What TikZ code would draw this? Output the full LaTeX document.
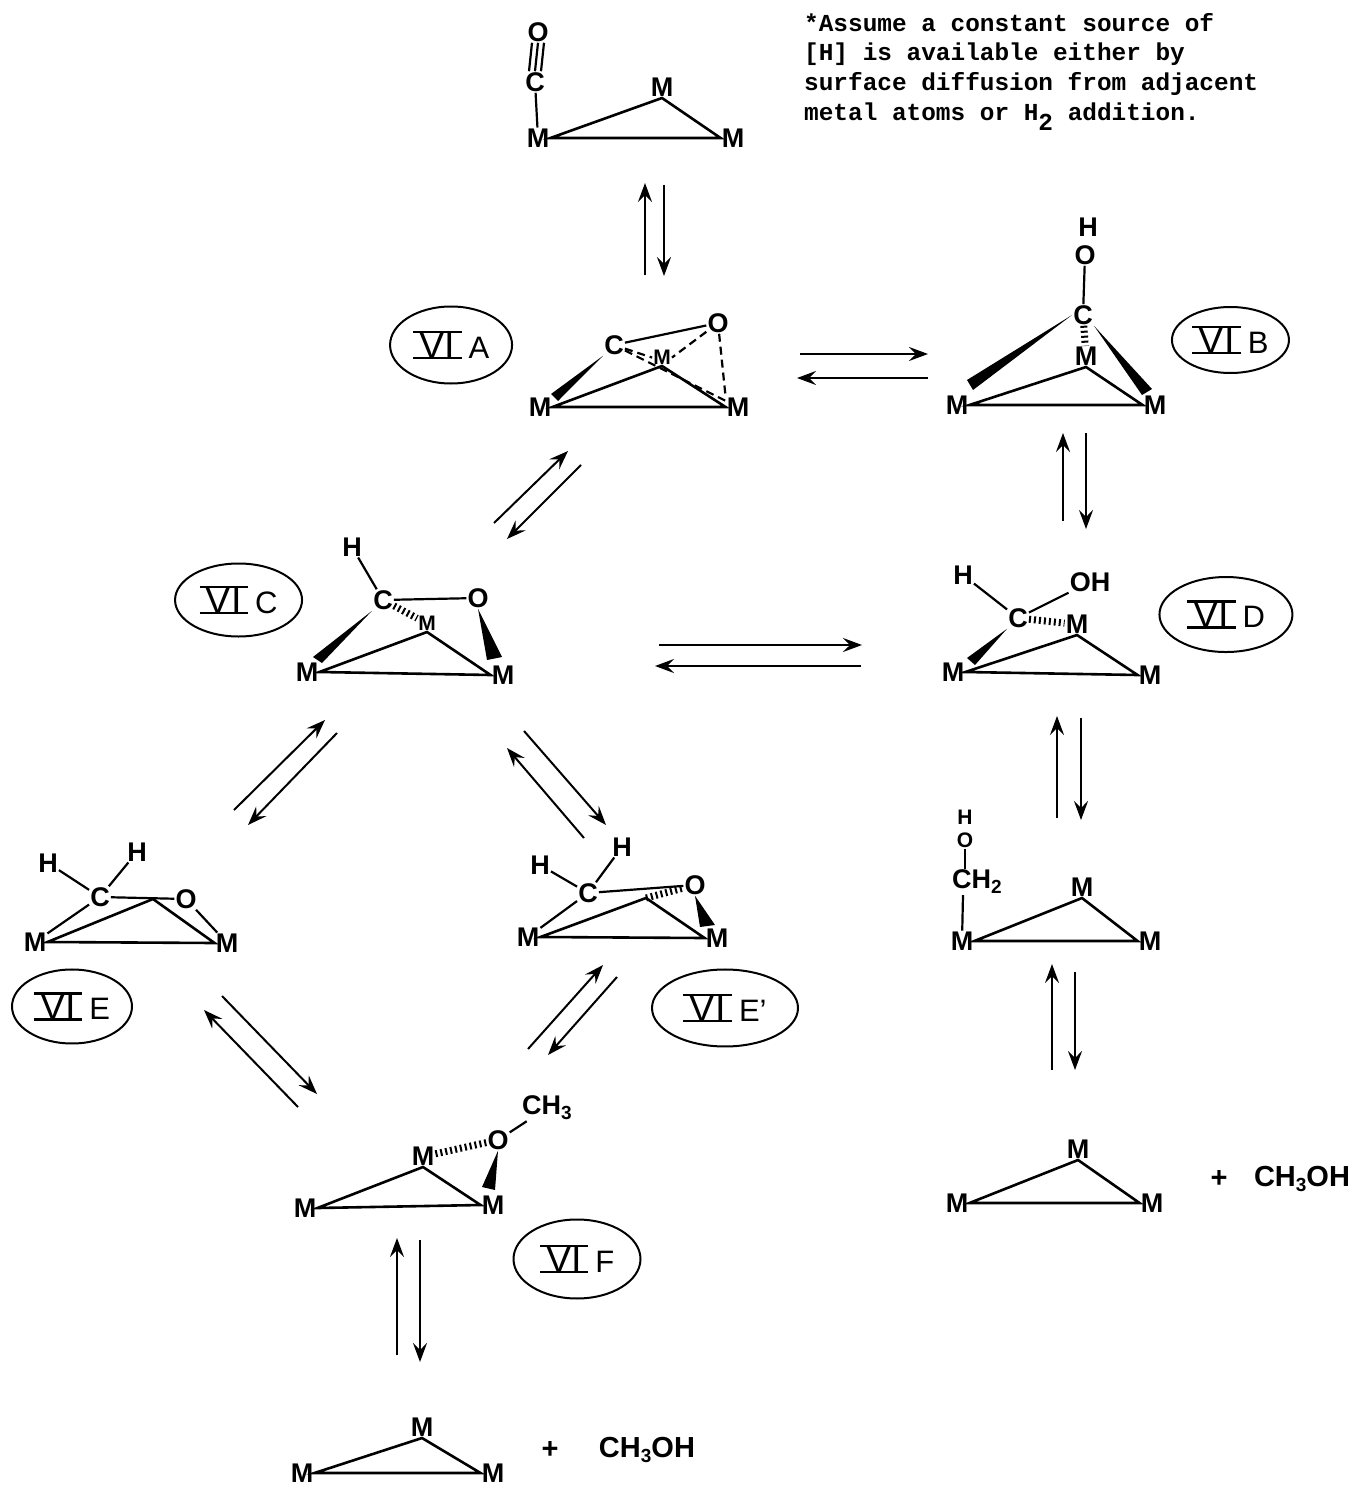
\documentclass[tikz,border=0pt]{standalone}
\usepackage{fontspec}
\setmainfont{Liberation Sans}
\setmonofont{Liberation Mono}
\usetikzlibrary{arrows.meta,positioning,shapes.geometric}
\newsavebox{\sixbox}
\newcommand{\romsix}{\sbox{\sixbox}{\fontsize{38}{38}\selectfont\,VI\,}\rlap{\rule[-1pt]{\wd\sixbox}{2.2pt}}\rlap{\raisebox{\ht\sixbox}{\rule[-1pt]{\wd\sixbox}{2.2pt}}}\usebox{\sixbox}\hspace{7pt}}
\newcommand{\lowered}[1]{\raisebox{-5pt}{\fontsize{19}{19}\selectfont #1}}
\begin{document}
\begin{tikzpicture}[
        x=1pt, y=-1pt,
        atom/.style={
          inner sep=1pt,
          font=\fontsize{27}{27}\selectfont\bfseries
        },
        smallatom/.style={
          inner sep=1pt,
          font=\fontsize{21}{21}\selectfont\bfseries
        },
        methanol/.style={
          inner sep=1pt,
          font=\fontsize{29}{29}\selectfont\bfseries
        },
        stage/.style={
          ellipse,
          draw,
          line width=2pt,
          inner sep=0pt,
          font=\fontsize{31}{31}\selectfont
        },
        bond/.style={line width=2.2pt},
        ring/.style={line width=2.6pt},
        hashed/.style={line width=7pt, dash pattern=on 2pt off 3pt},
        dashbond/.style={line width=2.2pt, dash pattern=on 8pt off 5pt},
        arrow/.style={
          -{Stealth[length=19pt,width=14pt,inset=7pt]},
          line width=2pt
        }
      ]
      \useasboundingbox (0,0) rectangle (1358,1487);

      % note
      \node[anchor=north west, inner sep=0pt, align=left, font=\fontsize{24.4}{29.6}\selectfont\ttfamily\bfseries] (note) at (804,13) {
        *Assume a constant source of\\
        {[H]} is available either by\\
        surface diffusion from adjacent\\
        metal atoms or H\raisebox{-10pt}{2} addition.
      };

      % carbonyl on the metal
      \node[atom] (to) at (538,32) {O};
      \node[atom] (tc) at (535,82) {C};
      \node[atom] (tm1) at (538,138) {M};
      \node[atom, anchor=south] (tm2) at (662,98) {M};
      \node[atom] (tm3) at (733,138) {M};
      \draw[bond] ([xshift=-6pt]to.south) -- ([xshift=-6pt]tc.north);
      \draw[bond] (to.south) -- (tc.north);
      \draw[bond] ([xshift=6pt]to.south) -- ([xshift=6pt]tc.north);
      \draw[bond] (tc) -- (tm1);
      \draw[ring] (tm1.east) -- (tm2.south) -- (tm3.west) -- cycle;

      % VI A
      \node[atom] (ac) at (614,345) {C};
      \node[atom] (ao) at (718,323) {O};
      \node[smallatom, anchor=south] (am2) at (662,366) {M};
      \node[atom] (am1) at (540,407) {M};
      \node[atom] (am3) at (738,407) {M};
      \node[stage, minimum width=122pt, minimum height=77pt, left=90pt of ac] (taga) {\romsix A};
      \draw[ring] (am1.east) -- (am2.south) -- (am3.west) -- cycle;
      \draw[bond] (ac) -- (ao);
      \fill (ac.south west) -- ([shift={(11,-13)}]am1.center) -- ([shift={(18,-6)}]am1.center) -- cycle;
      \draw[dashbond] (ac) -- (am2.west);
      \draw[dashbond] (ac) -- (am3);
      \draw[dashbond] (ao) -- (am2.east);
      \draw[dashbond] (ao) -- (am3.north west);

      % VI B
      \node[atom] (bh) at (1088,227) {H};
      \node[atom] (bo) at (1085,255) {O};
      \node[atom] (bc) at (1083,315) {C};
      \node[atom, anchor=south] (bm2) at (1086,367) {M};
      \node[atom] (bm1) at (957,405) {M};
      \node[atom] (bm3) at (1155,405) {M};
      \node[stage, minimum width=117pt, minimum height=66pt, right=77pt of bc, yshift=-25pt] (tagb) {\romsix B};
      \draw[bond] (bo) -- (bc);
      \draw[ring] (bm1.east) -- (bm2.south) -- (bm3.west) -- cycle;
      \draw[hashed] (bc) -- (bm2);
      \fill (bc.west) -- ([shift={(10,-25)}]bm1.center) -- ([shift={(16,-15)}]bm1.center) -- cycle;
      \fill (bc.south east) -- ([shift={(-3,-16)}]bm3.center) -- ([shift={(-13,-10)}]bm3.center) -- cycle;

      % VI C
      \node[atom] (ch) at (352,547) {H};
      \node[atom] (cc) at (383,600) {C};
      \node[atom] (co) at (478,598) {O};
      \node[smallatom, anchor=south] (cm2) at (427,632) {M};
      \node[atom] (cm1) at (307,672) {M};
      \node[atom] (cm3) at (503,675) {M};
      \node[stage, minimum width=127pt, minimum height=73pt, left=69pt of cc] (tagc) {\romsix C};
      \draw[bond] (ch) -- (cc);
      \draw[bond] (cc) -- (co);
      \draw[ring] (cm1.east) -- (cm2.south) -- (cm3.west) -- cycle;
      \draw[hashed] (cc) -- (cm2);
      \fill (cc.south west) -- ([shift={(6,-15)}]cm1.center) -- ([shift={(15,-9)}]cm1.center) -- cycle;
      \fill (co.south) -- ([shift={(-16,-15)}]cm3.center) -- ([shift={(-1,-18)}]cm3.center) -- cycle;

      % VI D
      \node[atom] (dh) at (963,575) {H};
      \node[atom] (doh) at (1090,582) {OH};
      \node[atom] (dc) at (1018,618) {C};
      \node[atom, anchor=south] (dm2) at (1077,635) {M};
      \node[atom] (dm1) at (953,672) {M};
      \node[atom] (dm3) at (1150,675) {M};
      \node[stage, minimum width=133pt, minimum height=75pt, right=69pt of dm2, yshift=10pt] (tagd) {\romsix D};
      \draw[bond] (dh) -- (dc);
      \draw[bond] (dc) -- (doh);
      \draw[ring] (dm1.east) -- (dm2.south) -- (dm3.west) -- cycle;
      \draw[hashed] (dc) -- (dm2);
      \fill (dc.south west) -- ([shift={(14,-14)}]dm1.center) -- ([shift={(22,-7)}]dm1.center) -- cycle;

      % VI E
      \node[atom] (eh1) at (48,863) {H};
      \node[atom] (eh2) at (137,852) {H};
      \node[atom] (ec) at (100,897) {C};
      \node[atom] (eo) at (186,899) {O};
      \coordinate (em2) at (153,899);
      \node[atom] (em1) at (35,942) {M};
      \node[atom] (em3) at (227,943) {M};
      \node[stage, minimum width=120pt, minimum height=74pt, below=16pt of em1, xshift=37pt] (tage) {\romsix E};
      \draw[bond] (eh1) -- (ec);
      \draw[bond] (eh2) -- (ec);
      \draw[bond] (ec) -- (eo);
      \draw[bond] (ec) -- (em1);
      \draw[bond] (eo) -- (em3);
      \draw[ring] (em1.east) -- (em2) -- (em3.west) -- cycle;

      % VI E'
      \node[atom] (fh1) at (540,865) {H};
      \node[atom] (fh2) at (622,847) {H};
      \node[atom] (fc) at (588,893) {C};
      \node[atom] (fo) at (695,885) {O};
      \coordinate (fm2) at (646,898);
      \node[atom] (fm1) at (528,937) {M};
      \node[atom] (fm3) at (717,938) {M};
      \node[stage, minimum width=146pt, minimum height=77pt, below=20pt of fm3, xshift=8pt] (tagf) {\romsix E'};
      \draw[bond] (fh1) -- (fc);
      \draw[bond] (fh2) -- (fc);
      \draw[bond] (fc) -- (fo);
      \draw[bond] (fc) -- (fm1);
      \draw[hashed] (fm2) -- (fo);
      \draw[ring] (fm1.east) -- (fm2) -- (fm3.west) -- cycle;
      \fill (fo.south) -- ([shift={(-17,-11)}]fm3.center) -- ([shift={(-2,-13)}]fm3.center) -- cycle;

      % VI F
      \node[atom] (gch) at (547,1108) {CH\lowered{3}};
      \node[atom] (go) at (498,1140) {O};
      \node[atom, anchor=south] (gm2) at (423,1167) {M};
      \node[atom] (gm1) at (305,1208) {M};
      \node[atom] (gm3) at (493,1205) {M};
      \node[stage, minimum width=127pt, minimum height=79pt, below=3pt of gm3, xshift=84pt] (tagg) {\romsix F};
      \draw[bond] (go) -- (gch);
      \draw[hashed] (gm2) -- (go);
      \draw[ring] (gm1.east) -- (gm2.south) -- (gm3.west) -- cycle;
      \fill (go.south) -- ([shift={(-11,-18)}]gm3.center) -- ([shift={(2,-15)}]gm3.center) -- cycle;

      % product, left column
      \node[atom, anchor=south] (hm2) at (422,1438) {M};
      \node[atom] (hm1) at (302,1473) {M};
      \node[atom] (hm3) at (493,1473) {M};
      \node[methanol, right=106pt of hm2, yshift=-22pt] (hplus) {+};
      \node[methanol, right=38pt of hplus] (hmeoh) {CH\lowered{3}OH};
      \draw[ring] (hm1.east) -- (hm2.south) -- (hm3.west) -- cycle;

      % hydroxymethyl
      \node[smallatom] (ih) at (965,817) {H};
      \node[smallatom] (io) at (965,840) {O};
      \node[atom] (ic) at (977,882) {CH\lowered{2}};
      \node[atom, anchor=south] (im2) at (1082,898) {M};
      \node[atom] (im1) at (962,941) {M};
      \node[atom] (im3) at (1150,941) {M};
      \draw[bond] (io) -- ([xshift=-12pt]ic.north);
      \draw[bond] ([xshift=-14pt]ic.south) -- (im1);
      \draw[ring] (im1.east) -- (im2.south) -- (im3.west) -- cycle;

      % product, right column
      \node[atom, anchor=south] (rm2) at (1078,1160) {M};
      \node[atom] (rm1) at (957,1203) {M};
      \node[atom] (rm3) at (1152,1203) {M};
      \node[methanol, right=119pt of rm2, yshift=-29pt] (rplus) {+};
      \node[methanol, right=24pt of rplus] (rmeoh) {CH\lowered{3}OH};
      \draw[ring] (rm1.east) -- (rm2.south) -- (rm3.west) -- cycle;

      % equilibrium arrows
      \coordinate (p1a) at (645,275); \coordinate (p1b) at (645,183); \draw[arrow] (p1a) -- (p1b);
      \coordinate (q1a) at (664,185); \coordinate (q1b) at (664,276); \draw[arrow] (q1a) -- (q1b);
      \coordinate (p2a) at (800,354); \coordinate (p2b) at (928,354); \draw[arrow] (p2a) -- (p2b);
      \coordinate (q2a) at (928,378); \coordinate (q2b) at (797,378); \draw[arrow] (q2a) -- (q2b);
      \coordinate (p3a) at (1063,521); \coordinate (p3b) at (1063,433); \draw[arrow] (p3a) -- (p3b);
      \coordinate (q3a) at (1086,433); \coordinate (q3b) at (1086,529); \draw[arrow] (q3a) -- (q3b);
      \coordinate (p4a) at (494,523); \coordinate (p4b) at (568,451); \draw[arrow] (p4a) -- (p4b);
      \coordinate (q4a) at (581,465); \coordinate (q4b) at (507,539); \draw[arrow] (q4a) -- (q4b);
      \coordinate (p5a) at (659,645); \coordinate (p5b) at (862,645); \draw[arrow] (p5a) -- (p5b);
      \coordinate (q5a) at (861,666); \coordinate (q5b) at (655,666); \draw[arrow] (q5a) -- (q5b);
      \coordinate (p6a) at (234,810); \coordinate (p6b) at (325,720); \draw[arrow] (p6a) -- (p6b);
      \coordinate (q6a) at (337,733); \coordinate (q6b) at (248,825); \draw[arrow] (q6a) -- (q6b);
      \coordinate (p7a) at (584,838); \coordinate (p7b) at (507,748); \draw[arrow] (p7a) -- (p7b);
      \coordinate (q7a) at (524,731); \coordinate (q7b) at (606,825); \draw[arrow] (q7a) -- (q7b);
      \coordinate (p8a) at (1057,818); \coordinate (p8b) at (1057,716); \draw[arrow] (p8a) -- (p8b);
      \coordinate (q8a) at (1081,718); \coordinate (q8b) at (1081,820); \draw[arrow] (q8a) -- (q8b);
      \coordinate (p9a) at (1052,1070); \coordinate (p9b) at (1052,964); \draw[arrow] (p9a) -- (p9b);
      \coordinate (q9a) at (1075,972); \coordinate (q9b) at (1075,1070); \draw[arrow] (q9a) -- (q9b);
      \coordinate (p10a) at (298,1107); \coordinate (p10b) at (204,1010); \draw[arrow] (p10a) -- (p10b);
      \coordinate (q10a) at (222,996); \coordinate (q10b) at (317,1094); \draw[arrow] (q10a) -- (q10b);
      \coordinate (p11a) at (528,1049); \coordinate (p11b) at (603,965); \draw[arrow] (p11a) -- (p11b);
      \coordinate (q11a) at (617,977); \coordinate (q11b) at (548,1055); \draw[arrow] (q11a) -- (q11b);
      \coordinate (p12a) at (397,1355); \coordinate (p12b) at (397,1238); \draw[arrow] (p12a) -- (p12b);
      \coordinate (q12a) at (420,1240); \coordinate (q12b) at (420,1362); \draw[arrow] (q12a) -- (q12b);

      \end{tikzpicture}
\end{document}
